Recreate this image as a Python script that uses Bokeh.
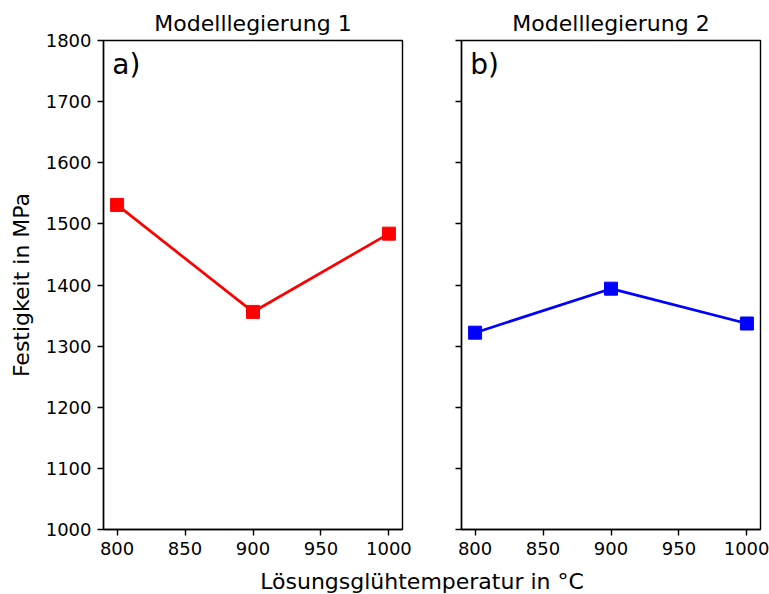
from bokeh.plotting import figure
from bokeh.models import Range1d, FixedTicker, Label
from bokeh.layouts import row, column
from bokeh.embed import file_html
from bokeh.resources import INLINE

# --- data ---
temperatures = [800, 900, 1000]
strength_alloy1 = [1531, 1356, 1484]
strength_alloy2 = [1322, 1394, 1337]
x_ticks = [800, 850, 900, 950, 1000]
y_ticks = [1000, 1100, 1200, 1300, 1400, 1500, 1600, 1700, 1800]
titles = ["Modelllegierung 1", "Modelllegierung 2"]
panel_tags = ["a)", "b)"]
x_label = "Lösungsglühtemperatur in °C"
y_label = "Festigkeit in MPa"

FONT = "DejaVu Sans"
PANEL_H = 565


def make_panel(title, tag, ys, color, width, left, right, show_ylabels):
    p = figure(width=width, height=PANEL_H, output_backend="svg", toolbar_location=None,
               x_range=Range1d(790, 1010), y_range=Range1d(1000, 1800),
               min_border_left=left, min_border_right=right,
               min_border_top=40, min_border_bottom=PANEL_H - 40 - 489,
               title=title)
    p.title.text_font = FONT
    p.title.text_font_size = "22px"
    p.title.text_font_style = "normal"
    p.title.align = "center"
    p.title.text_color = "black"
    p.title.standoff = 9
    p.xgrid.visible = False
    p.ygrid.visible = False
    p.outline_line_color = "black"
    p.outline_line_width = 1.4
    p.background_fill_color = "white"
    p.border_fill_color = "white"

    for ax in (p.xaxis[0], p.yaxis[0]):
        ax.axis_line_color = "black"
        ax.axis_line_width = 1.4
        ax.major_tick_line_color = "black"
        ax.major_tick_line_width = 1.4
        ax.major_tick_out = 6
        ax.major_tick_in = 0
        ax.minor_tick_line_color = None
        ax.major_label_text_font = FONT
        ax.major_label_text_font_size = "18px"
        ax.major_label_text_color = "black"
        ax.major_label_standoff = 6
    p.xaxis.ticker = FixedTicker(ticks=x_ticks)
    p.yaxis.ticker = FixedTicker(ticks=y_ticks)

    if show_ylabels:
        p.yaxis.axis_label = y_label
        p.yaxis.axis_label_text_font = FONT
        p.yaxis.axis_label_text_font_size = "22px"
        p.yaxis.axis_label_text_font_style = "normal"
        p.yaxis.axis_label_text_color = "black"
        p.yaxis.axis_label_standoff = 9
    else:
        p.yaxis.major_label_overrides = {t: "" for t in y_ticks}

    p.line(temperatures, ys, line_color=color, line_width=2.7)
    p.scatter(temperatures, ys, marker="square", size=13,
              fill_color=color, line_color=color)

    # panel tag placed in data space near the upper-left corner
    p.add_layout(Label(x=796.5, y=1761, text=tag,
                       text_font=FONT, text_font_size="28px", text_color="black",
                       text_baseline="middle"))
    return p


p1 = make_panel(titles[0], panel_tags[0], strength_alloy1, "#ff0000", 431, 103, 29, True)
p2 = make_panel(titles[1], panel_tags[1], strength_alloy2, "#0000ff", 338, 30, 9, False)

LBL_H = 594 - PANEL_H
p3 = figure(width=769, height=LBL_H, output_backend="svg", toolbar_location=None,
            x_range=Range1d(0, 769), y_range=Range1d(0, LBL_H),
            min_border_left=0, min_border_right=0, min_border_top=0, min_border_bottom=0)
p3.axis.visible = False
p3.xgrid.visible = False
p3.ygrid.visible = False
p3.outline_line_color = None
p3.border_fill_color = "white"
p3.background_fill_color = "white"
p3.add_layout(Label(x=421.5, y=LBL_H - 16, text=x_label,
                    text_font=FONT, text_font_size="22px", text_color="black",
                    text_align="center", text_baseline="middle"))

layout = column(row(p1, p2), p3)

open("out.html", "w").write(file_html(layout, INLINE))
